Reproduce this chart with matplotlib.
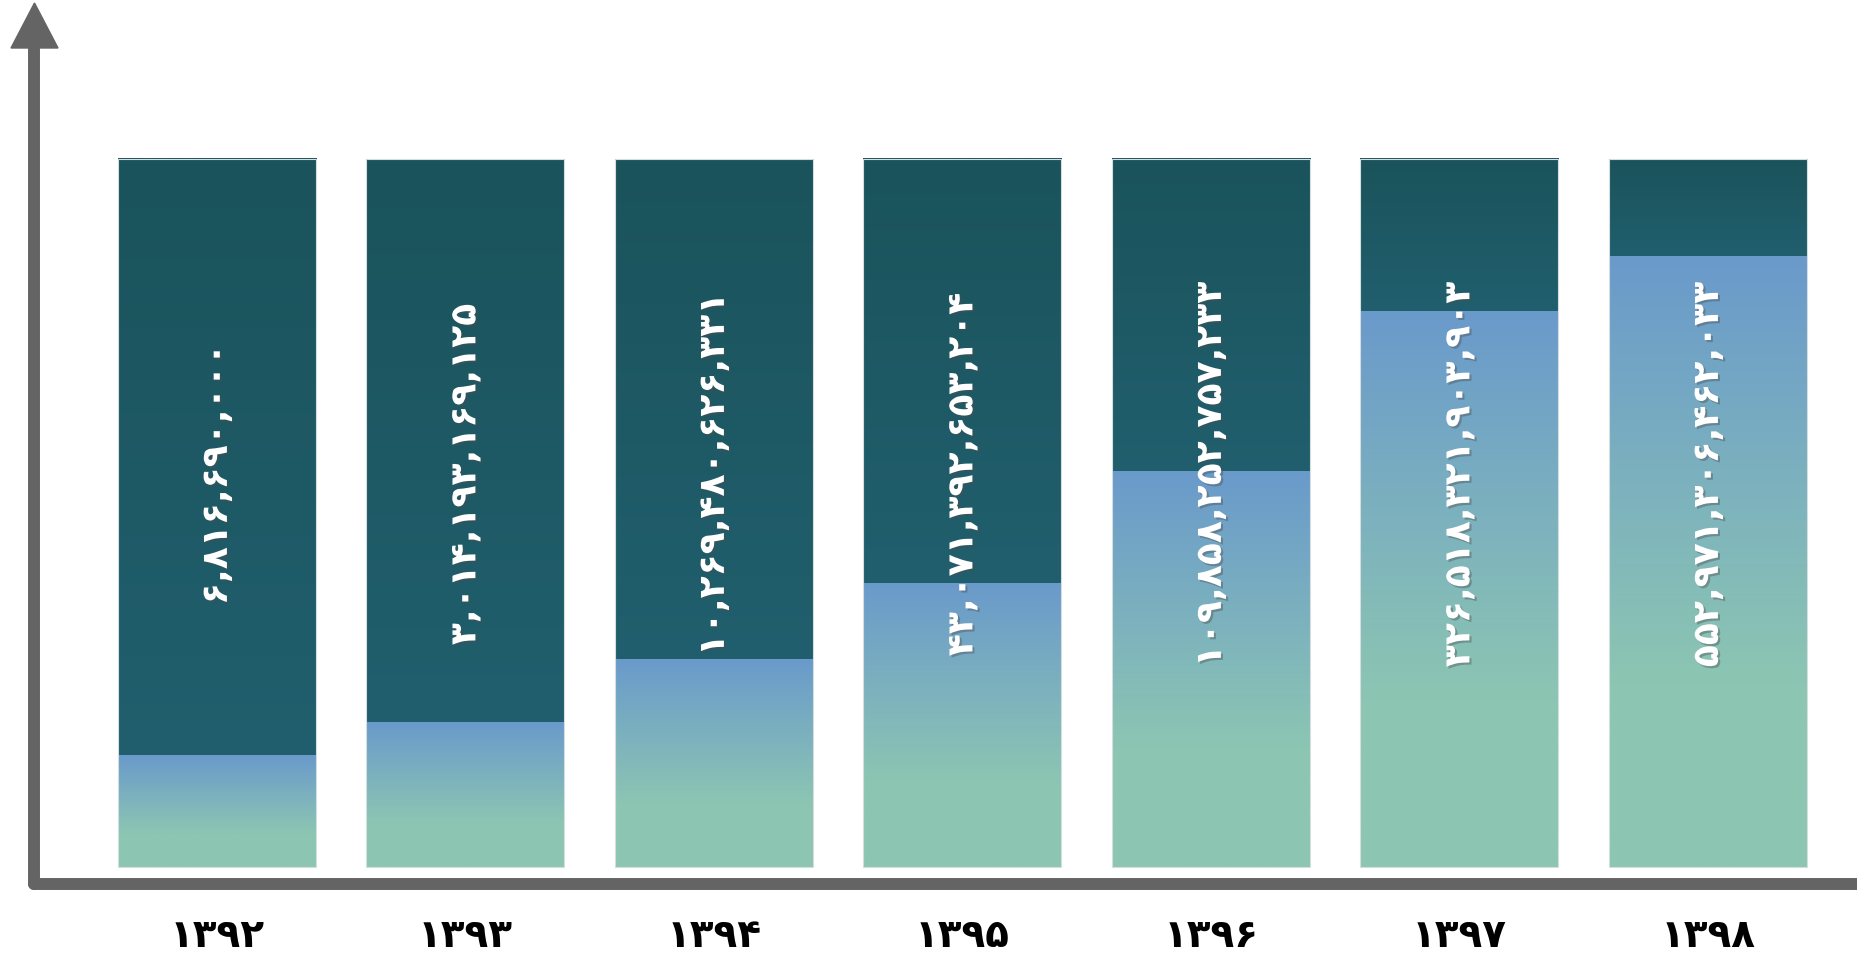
import numpy as np
import matplotlib
matplotlib.use('Agg')
import matplotlib.pyplot as plt
import matplotlib.patheffects as pe
from matplotlib.colors import LinearSegmentedColormap
from matplotlib.patches import Polygon

# years (persian digits) and the values written on each column
years = ['۱۳۹۲', '۱۳۹۳', '۱۳۹۴', '۱۳۹۵', '۱۳۹۶', '۱۳۹۷', '۱۳۹۸']
value_labels = ['۶,۸۱۶,۶۹۰,۰۰۰',
                '۳,۰۱۴,۱۹۳,۱۶۹,۱۲۵',
                '۱۰,۲۶۹,۴۸۰,۶۲۶,۳۳۱',
                '۴۳,۰۷۱,۳۹۲,۶۵۳,۲۰۴',
                '۱۰۹,۸۵۸,۲۵۲,۷۵۷,۲۳۳',
                '۳۲۶,۵۱۸,۳۲۱,۹۰۳,۹۰۳',
                '۵۵۲,۹۷۱,۳۰۶,۴۶۲,۰۳۳']
# filled share of each column
fill_levels = [0.157, 0.204, 0.293, 0.400, 0.558, 0.784, 0.862]

W, H = 1858, 960
fig = plt.figure(figsize=(W / 100, H / 100), dpi=100)

# axes placed so the spines sit where the arrows are drawn
ax_x0, ax_y0 = 34, 884          # pixel position of the axis corner
ax = fig.add_axes([ax_x0 / W, 1 - ax_y0 / H, 1 - ax_x0 / W, (ax_y0 - 6) / H])
ax.set_xlim(-0.736, 6.604)
ax.set_ylim(-0.0233, 1.216)

axis_col = '#646464'
for s in ['top', 'right']:
    ax.spines[s].set_visible(False)
for s in ['left', 'bottom']:
    ax.spines[s].set_linewidth(8.6)
    ax.spines[s].set_color(axis_col)
    ax.spines[s].set_capstyle('round')
ax.spines['left'].set_bounds(-0.0233, 1.17)
ax.set_xticks([])
ax.set_yticks([])

# arrow head on the y axis
head = Polygon([[11 / W, 1 - 48 / H], [58 / W, 1 - 48 / H], [34.5 / W, 1 - 3 / H]],
               closed=True, transform=fig.transFigure, color=axis_col, zorder=5)
fig.add_artist(head)

dark = LinearSegmentedColormap.from_list('dark', ['#215f6e', '#1a535b'])
light = LinearSegmentedColormap.from_list('light', [(0, '#8cc6b2'), (0.3, '#8cc6b2'),
                                                     (1.0, '#6a9acb')])
grad = np.linspace(0, 1, 256).reshape(-1, 1)

bar_w = 0.797
for i, (lvl, lab, yr) in enumerate(zip(fill_levels, value_labels, years)):
    x0, x1 = i - bar_w / 2, i + bar_w / 2
    ax.imshow(grad, extent=[x0, x1, lvl, 1.0], origin='lower', cmap=dark,
              aspect='auto', interpolation='bilinear', zorder=1)
    ax.imshow(grad, extent=[x0, x1, 0.0, lvl], origin='lower', cmap=light,
              aspect='auto', interpolation='bilinear', zorder=1)
    ax.add_patch(plt.Rectangle((x0, 0), bar_w, 1.0, fill=False,
                               edgecolor='#d5dde0', linewidth=0.8, zorder=2))
    ax.text(i, 0.555, lab, rotation=90, ha='center', va='center',
            fontsize=26, fontweight='bold', color='white', family=['DejaVu Sans'],
            zorder=4,
            path_effects=[pe.SimplePatchShadow(offset=(1.5, -1.5), alpha=0.4),
                          pe.Normal()])
    ax.text(i, -0.0233 - 52 / 708.5, yr, ha='center', va='center',
            fontsize=28, fontweight='bold', color='black', family=['DejaVu Sans'],
            clip_on=False)

ax.set_facecolor('white')
fig.savefig('out.png', dpi=100, facecolor='white')
